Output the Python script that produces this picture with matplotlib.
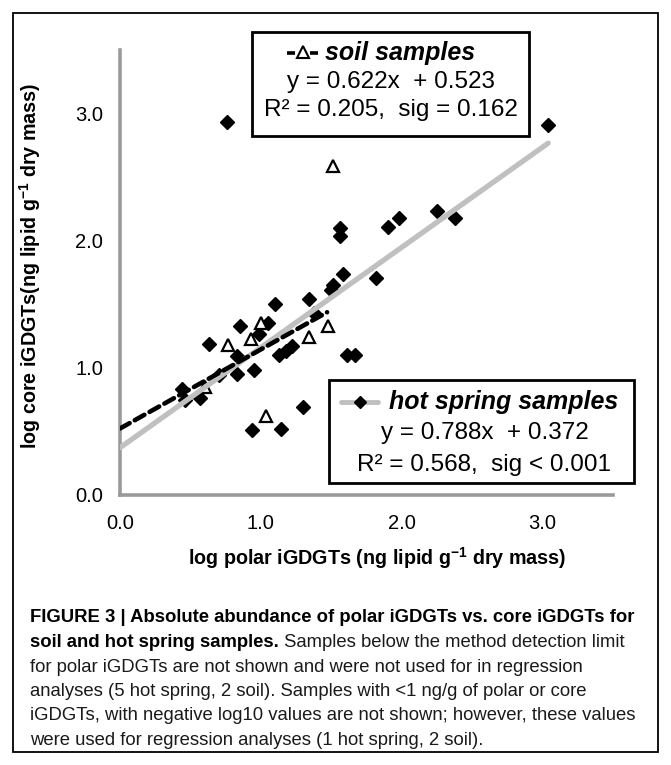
import matplotlib
matplotlib.use("Agg")
import matplotlib.pyplot as plt
from matplotlib.lines import Line2D
from matplotlib.patches import Rectangle

# ---------------- data ----------------
hot_x = [0.76, 1.56, 1.56, 1.58, 1.51, 1.50, 1.10, 1.34, 1.38, 1.05, 0.85, 0.99,
         0.63, 0.83, 1.13, 1.18, 1.22, 1.61, 1.67, 0.95, 0.83, 0.70, 0.44, 0.46,
         0.57, 1.30, 0.94, 1.14, 1.90, 1.98, 2.25, 2.38, 1.82, 3.04]
hot_y = [2.93, 2.10, 2.04, 1.74, 1.65, 1.61, 1.50, 1.54, 1.43, 1.35, 1.33, 1.27,
         1.19, 1.09, 1.10, 1.13, 1.17, 1.10, 1.10, 0.98, 0.95, 0.94, 0.83, 0.75,
         0.76, 0.69, 0.51, 0.52, 2.11, 2.18, 2.23, 2.18, 1.71, 2.91]
soil_x = [1.00, 0.93, 0.77, 1.34, 1.48, 0.60, 1.04, 1.51]
soil_y = [1.35, 1.23, 1.18, 1.24, 1.33, 0.85, 0.62, 2.59]

hot_slope, hot_icpt = 0.788, 0.372
soil_slope, soil_icpt = 0.622, 0.523

ticks = [0, 1, 2, 3]
tick_labels = ["0.0", "1.0", "2.0", "3.0"]

soil_lines = ["soil samples", "y = 0.622x  + 0.523", "R\u00b2 = 0.205,  sig = 0.162"]
hot_lines = ["hot spring samples", "y = 0.788x  + 0.372", "R\u00b2 = 0.568,  sig < 0.001"]

xlabel = "log polar iGDGTs (ng lipid g$^{-1}$ dry mass)"
ylabel = "log core iGDGTs(ng lipid g$^{-1}$ dry mass)"

cap_bold1 = "FIGURE 3 | Absolute abundance of polar iGDGTs vs. core iGDGTs for"
cap_bold2 = "soil and hot spring samples."
cap_rest2 = " Samples below the method detection limit"
cap_lines = ["for polar iGDGTs are not shown and were not used for in regression",
             "analyses (5 hot spring, 2 soil). Samples with <1 ng/g of polar or core",
             "iGDGTs, with negative log10 values are not shown; however, these values",
             "were used for regression analyses (1 hot spring, 2 soil)."]

# ---------------- figure ----------------
W, H = 671, 765
plt.rcParams['font.family'] = ['Liberation Sans', 'DejaVu Sans']
plt.rcParams['mathtext.default'] = 'regular'
fig = plt.figure(figsize=(W / 100, H / 100), dpi=100)

def fx(x):
    return x / W

def fy(y):
    return 1 - y / H

# outer frame
fig.add_artist(Rectangle((fx(13), fy(752)), fx(658) - fx(13), fy(13) - fy(752),
                         transform=fig.transFigure, fill=False, lw=1.3, ec='black'))

ax = fig.add_axes([fx(120), fy(495), fx(613) - fx(120), fy(50) - fy(495)])
ax.set_xlim(0, 3.5)
ax.set_ylim(0, 3.5)
for s in ['top', 'right']:
    ax.spines[s].set_visible(False)
for s in ['left', 'bottom']:
    ax.spines[s].set_color('#9a9a9a')
    ax.spines[s].set_linewidth(2.6)
ax.set_xticks(ticks)
ax.set_xticklabels(tick_labels)
ax.set_yticks(ticks)
ax.set_yticklabels(tick_labels)
ax.tick_params(axis='both', length=0, labelsize=14.5, colors='black')
ax.tick_params(axis='x', pad=14)
ax.tick_params(axis='y', pad=12)

# points
ax.plot(hot_x, hot_y, ls='none', marker='D', ms=7.2, mfc='black', mec='black', zorder=3, clip_on=False)
ax.plot(soil_x, soil_y, ls='none', marker='^', ms=8.5, mfc='white', mec='black', mew=1.6, zorder=3, clip_on=False)

# trend lines
hx = [0, max(hot_x)]
ax.plot(hx, [hot_icpt + hot_slope * v for v in hx], color='#c0c0c0', lw=3.8,
        solid_capstyle='round', zorder=4)
sx = [0, max(soil_x) - 0.04]
ax.plot(sx, [soil_icpt + soil_slope * v for v in sx], color='black', lw=3.3,
        ls=(0, (2.4, 1.3)), dash_capstyle='round', zorder=5)

# axis labels
fig.text(fx(377), fy(558), xlabel, ha='center', va='center', fontsize=14.2, fontweight='bold')
fig.text(fx(30), fy(266), ylabel, ha='center', va='center', fontsize=14.2, fontweight='bold', rotation=90)

# soil legend box
fig.add_artist(Rectangle((fx(252), fy(136)), fx(529) - fx(252), fy(32) - fy(136),
                         transform=fig.transFigure, fill=True, fc='white', lw=2.0, ec='black', zorder=6))
for xa, xb in [(287, 295), (310, 318)]:
    fig.add_artist(Line2D([fx(xa), fx(xb)], [fy(53), fy(53)], transform=fig.transFigure,
                          color='black', lw=2.6, solid_capstyle='butt', zorder=7))
fig.add_artist(Line2D([fx(302.5)], [fy(52)], transform=fig.transFigure, ls='none',
                      marker='^', ms=8, mfc='white', mec='black', mew=1.5, zorder=8))
fig.text(fx(325), fy(53), soil_lines[0], ha='left', va='center', fontsize=18,
         fontweight='bold', fontstyle='italic', zorder=8)
fig.text(fx(391), fy(82), soil_lines[1], ha='center', va='center', fontsize=17.5, zorder=8)
fig.text(fx(391), fy(110), soil_lines[2], ha='center', va='center', fontsize=17.5, zorder=8)

# hot spring legend box
fig.add_artist(Rectangle((fx(329), fy(483)), fx(634) - fx(329), fy(380) - fy(483),
                         transform=fig.transFigure, fill=True, fc='white', lw=2.0, ec='black', zorder=6))
fig.add_artist(Line2D([fx(341), fx(378)], [fy(402), fy(402)], transform=fig.transFigure,
                      color='#c0c0c0', lw=3.5, solid_capstyle='round', zorder=7))
fig.add_artist(Line2D([fx(360)], [fy(402)], transform=fig.transFigure, ls='none',
                      marker='D', ms=6.5, mfc='black', mec='black', zorder=8))
fig.text(fx(389), fy(402), hot_lines[0], ha='left', va='center', fontsize=18,
         fontweight='bold', fontstyle='italic', zorder=8)
fig.text(fx(485), fy(433), hot_lines[1], ha='center', va='center', fontsize=17.5, zorder=8)
fig.text(fx(484), fy(465), hot_lines[2], ha='center', va='center', fontsize=17.5, zorder=8)

# caption
cap_family = ['Liberation Sans Narrow', 'Liberation Sans', 'DejaVu Sans']
cap_size = 13.3
ys = [618, 642.5, 667, 691.5, 716, 740.5]
fig.text(fx(30), fy(ys[0]), cap_bold1, ha='left', va='center', fontsize=cap_size,
         fontweight='bold', family=cap_family)
t2 = fig.text(fx(30), fy(ys[1]), cap_bold2, ha='left', va='center', fontsize=cap_size,
              fontweight='bold', family=cap_family)
r = fig.canvas.get_renderer()
bb = t2.get_window_extent(renderer=r)
fig.text(bb.x1 / W, fy(ys[1]), cap_rest2, ha='left', va='center', fontsize=cap_size,
         family=cap_family, color='#1a1a1a')
for yy, line in zip(ys[2:], cap_lines):
    fig.text(fx(30), fy(yy), line, ha='left', va='center', fontsize=cap_size,
             family=cap_family, color='#1a1a1a')

fig.savefig("out.png", dpi=100)
